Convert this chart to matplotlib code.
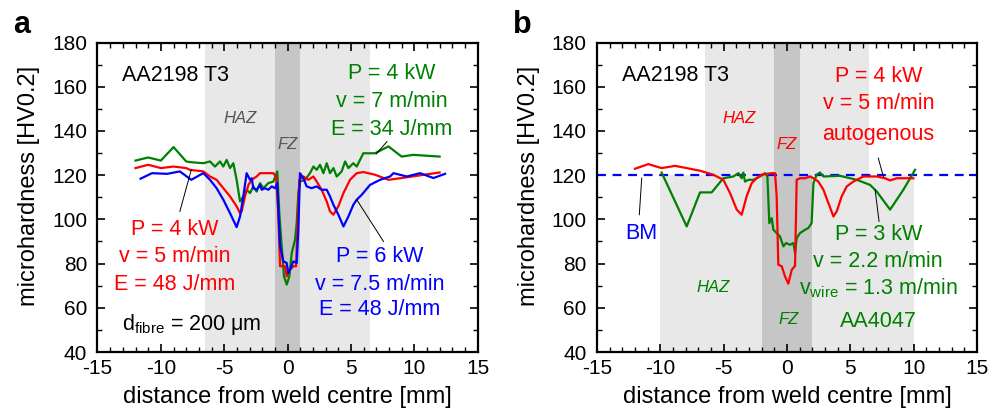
"""Microhardness profiles across laser welds in AA2198 T3 — two panels."""

import matplotlib

matplotlib.use("Agg")
import matplotlib.pyplot as plt
from matplotlib.ticker import MultipleLocator

plt.rcParams["font.family"] = ["Liberation Sans", "DejaVu Sans"]
plt.rcParams["axes.unicode_minus"] = False

RED = "#ff0000"
GREEN = "#008000"
BLUE = "#0000ff"
LIGHT = "#e8e8e8"
DARK = "#c6c6c6"

# ---- panel a: three parameter sets, d_fibre = 200 um ----
a_green_x = [-12.0, -11.0, -10.0, -9.0, -8.0, -7.7, -6.65, -6.12, -5.73, -5.33, -5.07, -4.81,
             -4.54, -4.28, -4.02, -3.75, -3.49, -3.23, -2.96, -2.70, -2.44, -2.17, -1.91,
             -1.52, -1.12, -0.81, -0.65, -0.46, -0.28, -0.07, 0.14, 0.33, 0.59, 0.72, 0.85,
             0.98, 1.38, 1.77, 2.04, 2.30, 2.56, 2.83, 3.09, 3.35, 3.62, 3.88, 4.27, 4.54,
             4.80, 5.19, 5.46, 5.72, 5.98, 6.90, 7.96, 9.0, 9.92, 12.0]
a_green_y = [126.6, 128.0, 126.6, 132.7, 126.2, 125.9, 125.4, 126.2, 123.9, 126.2, 123.9, 126.9,
             123.2, 125.4, 117.9, 108.1, 110.4, 113.4, 111.9, 114.9, 112.6, 116.4, 114.1,
             116.4, 117.1, 121.7, 102.8, 87.8, 74.2, 70.5, 74.2, 84.8, 90.8, 98.3, 111.9,
             117.1, 117.9, 120.9, 123.9, 122.4, 124.7, 120.9, 125.4, 120.9, 123.2, 119.4,
             121.7, 126.2, 123.2, 125.4, 123.9, 126.9, 129.9, 129.9, 133.0, 128.4, 129.2,
             128.4]

a_red_x = [-12.0, -11.0, -10.0, -9.0, -8.0, -7.7, -6.65, -6.12, -5.6, -5.07, -4.54, -4.02,
           -3.75, -3.62, -3.36, -3.09, -2.83, -2.44, -2.17, -1.12, -0.91, -0.73, -0.59,
           -0.2, -0.07, 0.19, 0.46, 0.67, 0.77, 0.93, 1.25, 1.64, 2.04, 2.30, 2.69, 3.09,
           3.35, 3.62, 4.01, 4.41, 4.93, 5.46, 5.98, 6.9, 7.96, 9.0, 12.0]
a_red_y = [123.2, 124.7, 123.2, 123.9, 123.2, 122.4, 121.7, 119.4, 117.9, 114.1, 110.4, 105.9,
           102.8, 103.6, 110.4, 115.6, 117.9, 119.4, 120.9, 120.9, 119.4, 102.8, 78.8,
           78.8, 74.2, 77.3, 78.8, 78.8, 95.3, 117.9, 119.4, 117.9, 119.4, 117.1, 113.4, 108.1,
           103.6, 102.1, 105.9, 111.9, 117.9, 120.9, 121.4, 120.2, 117.9, 118.7, 121.2]

a_blue_x = [-11.6, -10.7, -9.5, -8.5, -7.6, -6.65, -6.12, -5.6, -5.07, -4.54, -4.02, -3.75,
            -3.49, -3.23, -2.96, -2.83, -2.70, -2.44, -2.17, -2.04, -1.78, -1.52, -1.25,
            -0.99, -0.81, -0.73, -0.59, -0.33, -0.07, 0.06, 0.19, 0.46, 0.72, 0.85, 0.98,
            1.25, 1.51, 1.90, 2.30, 2.69, 3.09, 3.35, 3.62, 4.01, 4.41, 4.80, 5.19, 5.46,
            5.85, 6.51, 7.30, 8.09, 8.36, 9.41, 10.46, 11.51, 12.43]
a_blue_y = [118.4, 120.9, 120.6, 121.7, 117.9, 120.9, 117.9, 114.1, 108.9, 102.8, 96.5, 101.3,
            110.4, 120.9, 117.9, 118.6, 114.1, 113.4, 115.6, 113.4, 114.1, 113.4, 114.9,
            114.1, 116.4, 104.4, 87.8, 81.0, 80.3, 75.7, 77.2, 81.0, 80.3, 95.3, 120.9,
            118.6, 114.9, 114.1, 114.9, 113.4, 113.4, 110.4, 106.6, 102.1, 96.8, 101.3, 106.6,
            108.9, 111.1, 115.6, 117.9, 119.4, 120.9, 119.4, 120.9, 118.7, 120.6]

# ---- panel b: autogenous vs. filler wire ----
b_red_x = [-12.0, -10.95, -9.9, -8.84, -7.92, -6.87, -5.82, -5.03, -4.5, -3.97, -3.58, -3.19,
           -2.79, -2.4, -2.0, -1.61, -1.21, -0.95, -0.82, -0.69, -0.42, -0.16, 0.1, 0.37,
           0.63, 0.76, 1.02, 1.42, 1.81, 2.08, 2.47, 2.87, 3.26, 3.66, 3.92, 4.31, 4.71,
           5.23, 6.02, 7.08, 7.73, 8.13, 8.66, 9.97]
b_red_y = [122.9, 125.0, 123.2, 124.2, 123.2, 122.0, 120.2, 117.9, 111.9, 104.4, 102.1, 110.4,
           116.4, 118.6, 120.2, 120.6, 120.9, 120.9, 110.4, 79.5, 78.8, 74.2, 70.9, 77.2,
           79.0, 117.9, 118.6, 118.6, 119.4, 118.6, 117.1, 113.4, 107.4, 101.3, 103.6, 110.4,
           114.9, 117.1, 119.4, 119.4, 118.6, 117.6, 118.6, 118.6]

b_green_x = [-9.9, -7.92, -6.87, -5.95, -5.03, -4.24, -3.84, -3.58, -3.45, -3.32, -3.05, -2.66,
             -2.13, -1.74, -1.55, -1.40, -1.21, -1.08, -0.82, -0.56, -0.29, -0.08, 0.23, 0.5,
             0.63, 0.76, 1.02, 1.42, 1.68, 1.94, 2.08, 2.34, 2.6, 2.87, 4.18, 5.5, 6.55, 7.08,
             8.13, 9.18, 10.1]
b_green_y = [121.2, 96.8, 112.2, 112.2, 118.6, 119.4, 120.9, 118.6, 121.2, 117.1, 117.9, 117.9,
             119.4, 120.9, 119.4, 98.3, 100.6, 95.3, 93.8, 92.3, 87.8, 89.3, 88.5, 89.3,
             84.8, 91.5, 93.8, 95.3, 96.1, 98.3, 116.4, 120.2, 121.2, 119.4, 119.7, 117.9,
             115.6, 112.6, 104.4, 113.4, 122.4]

bm_level = 120

# zone limits [mm]
a_haz = (-6.5, 6.5)
a_fz = (-1.0, 1.0)
b_haz_red = (-6.5, 6.5)
b_fz_red = (-1.0, 1.0)
b_haz_green = (-10.0, 10.0)
b_fz_green = (-2.0, 2.0)


def style_axes(ax):
    ax.set_xlim(-15, 15)
    ax.set_ylim(40, 180)
    ax.xaxis.set_major_locator(MultipleLocator(5))
    ax.xaxis.set_minor_locator(MultipleLocator(1))
    ax.yaxis.set_major_locator(MultipleLocator(20))
    ax.yaxis.set_minor_locator(MultipleLocator(10))
    ax.tick_params(which="both", direction="in", top=True, right=True, labelsize=15)
    ax.tick_params(which="major", length=6, width=1.2)
    ax.tick_params(which="minor", length=3.5, width=1.0)
    ax.tick_params(axis="x", which="major", pad=5)
    ax.tick_params(axis="y", which="major", pad=7.5)
    for sp in ax.spines.values():
        sp.set_linewidth(1.6)
    ax.set_xlabel("distance from weld centre [mm]", fontsize=17)
    ax.set_ylabel("microhardness [HV0.2]", fontsize=17)
    ax.xaxis.set_label_coords(0.5, -0.11)
    ax.yaxis.set_label_coords(-0.15, 0.535)


fig = plt.figure(figsize=(10.03, 4.16), dpi=100)
ax1 = fig.add_axes([0.0972, 0.1538, 0.379, 0.744])
ax2 = fig.add_axes([0.5952, 0.1538, 0.379, 0.744])

# ---------- panel a ----------
ax1.axvspan(*a_haz, color=LIGHT, lw=0, zorder=0)
ax1.axvspan(*a_fz, color=DARK, lw=0, zorder=0)
ax1.plot(a_green_x, a_green_y, color=GREEN, lw=1.6, zorder=3)
ax1.plot(a_red_x, a_red_y, color=RED, lw=1.6, zorder=3)
ax1.plot(a_blue_x, a_blue_y, color=BLUE, lw=1.6, zorder=3)
style_axes(ax1)

ax1.text(-13.1, 165.3, "AA2198 T3", fontsize=15.5, ha="left", va="center")
ax1.text(-3.75, 145.8, "HAZ", fontsize=12, style="italic", color="#555555", ha="center", va="center")
ax1.text(0, 133.7, "FZ", fontsize=12, style="italic", color="#555555", ha="center", va="center")
for txt, yy in zip(["P = 4 kW", "v = 7 m/min", "E = 34 J/mm"], [166.1, 153.3, 140.5]):
    ax1.text(8.2, yy, txt, fontsize=15.5, color=GREEN, ha="center", va="center")
for txt, yy in zip(["P = 4 kW", "v = 5 m/min", "E = 48 J/mm"], [95.3, 83.3, 70.5]):
    ax1.text(-8.9, yy, txt, fontsize=15.5, color=RED, ha="center", va="center")
for txt, yy in zip(["P = 6 kW", "v = 7.5 m/min", "E = 48 J/mm"], [83.3, 70.5, 59.2]):
    ax1.text(7.3, yy, txt, fontsize=15.5, color=BLUE, ha="center", va="center")
ax1.text(-13.1, 52.4, r"d$_{\mathregular{fibre}}$ = 200 $\mathregular{\mu}$m", fontsize=15.5,
         ha="left", va="center")
ax1.plot([-8.5, -7.6], [103.6, 122.4], color="black", lw=0.7, zorder=4)
ax1.plot([7.57, 5.46], [90.0, 108.9], color="black", lw=0.7, zorder=4)
ax1.plot([7.0, 7.85], [129.6, 135.2], color="black", lw=0.7, zorder=4)

# ---------- panel b ----------
ax2.fill_between(b_haz_green, 40, bm_level, color=LIGHT, lw=0, zorder=0)
ax2.fill_between(b_haz_red, bm_level, 180, color=LIGHT, lw=0, zorder=0)
ax2.fill_between(b_fz_green, 40, bm_level, color=DARK, lw=0, zorder=0)
ax2.fill_between(b_fz_red, bm_level, 180, color=DARK, lw=0, zorder=0)
ax2.axhline(bm_level, color=BLUE, lw=1.6, ls=(0, (4, 3)), zorder=2)
ax2.plot(b_green_x, b_green_y, color=GREEN, lw=1.6, zorder=3)
ax2.plot(b_red_x, b_red_y, color=RED, lw=1.6, zorder=3)
style_axes(ax2)

ax2.text(-13.05, 165.3, "AA2198 T3", fontsize=15.5, ha="left", va="center")
ax2.text(-3.75, 145.8, "HAZ", fontsize=12, style="italic", color=RED, ha="center", va="center")
ax2.text(0, 133.7, "FZ", fontsize=12, style="italic", color=RED, ha="center", va="center")
ax2.text(-5.8, 69.0, "HAZ", fontsize=12, style="italic", color=GREEN, ha="center", va="center")
ax2.text(0.1, 54.7, "FZ", fontsize=12, style="italic", color=GREEN, ha="center", va="center")
for txt, yy in zip(["P = 4 kW", "v = 5 m/min", "autogenous"], [164.6, 152.5, 138.2]):
    ax2.text(7.2, yy, txt, fontsize=15.5, color=RED, ha="center", va="center")
for txt, yy in zip(["P = 3 kW", "v = 2.2 m/min",
                    r"v$_{\mathregular{wire}}$ = 1.3 m/min", "AA4047"],
                   [93.1, 81.0, 69.0, 53.9]):
    ax2.text(7.2, yy, txt, fontsize=15.5, color=GREEN, ha="center", va="center")
ax2.text(-11.47, 93.8, "BM", fontsize=15.5, color=BLUE, ha="center", va="center")
ax2.plot([-11.66, -11.47], [102.1, 118.7], color="black", lw=0.7, zorder=4)
ax2.plot([7.6, 7.2], [119.4, 127.7], color="black", lw=0.7, zorder=4)
ax2.plot([7.26, 6.95], [99.1, 113.4], color="black", lw=0.7, zorder=4)

fig.text(0.013, 0.921, "a", fontsize=22, fontweight="bold", ha="left", va="baseline")
fig.text(0.511, 0.921, "b", fontsize=22, fontweight="bold", ha="left", va="baseline")

fig.savefig("out.png", dpi=100)
plt.close(fig)
